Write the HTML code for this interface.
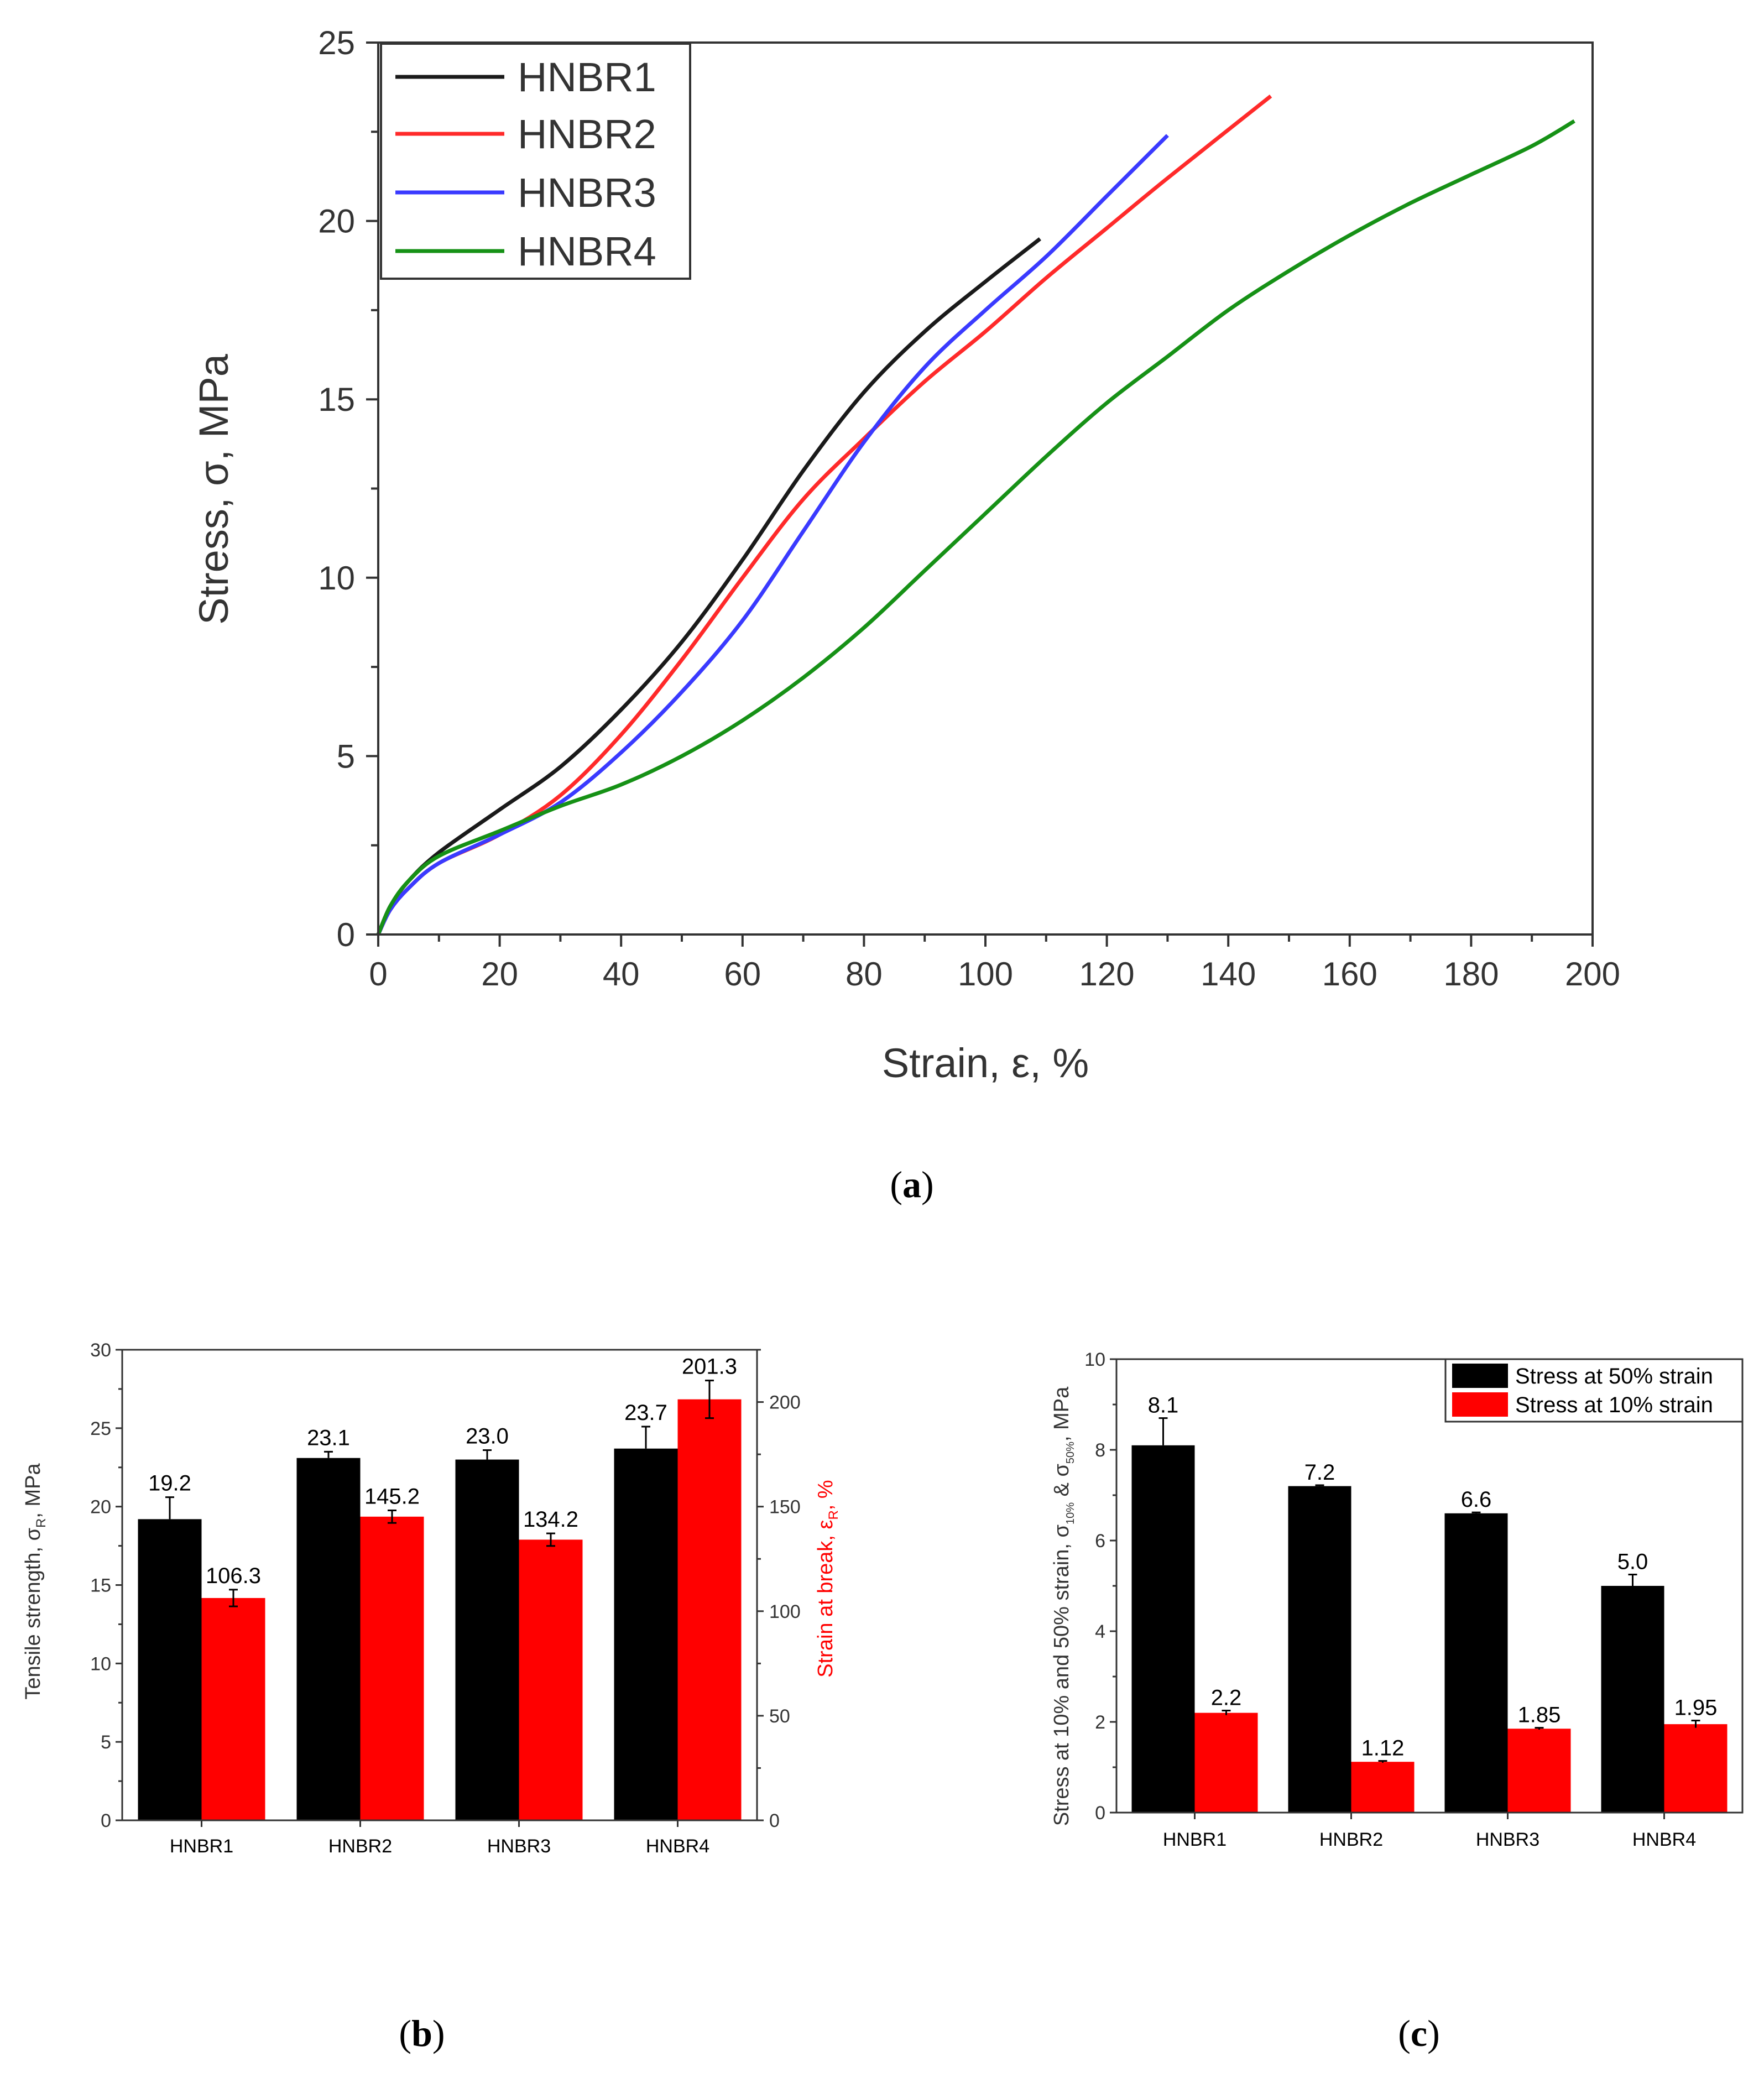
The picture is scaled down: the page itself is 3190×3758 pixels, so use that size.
<!DOCTYPE html>
<html><head><meta charset="utf-8">
<style>
html,body{margin:0;padding:0;background:#fff;}
svg{display:block;font-family:"Liberation Sans",Arial,sans-serif;}
</style></head>
<body>
<svg id="s" width="3190" height="3758" viewBox="0 0 3190 3758" xmlns="http://www.w3.org/2000/svg">
<text x="1649" y="2165" font-family="Liberation Serif,serif" font-size="68" text-anchor="middle">(<tspan font-weight="bold">a</tspan>)</text>
<text x="763" y="3700" font-family="Liberation Serif,serif" font-size="68" text-anchor="middle">(<tspan font-weight="bold">b</tspan>)</text>
<text x="2566" y="3700" font-family="Liberation Serif,serif" font-size="68" text-anchor="middle">(<tspan font-weight="bold">c</tspan>)</text>
</svg>
<script>
// ---- Chart A data ----
const aNames = ["HNBR1","HNBR2","HNBR3","HNBR4"];
const aColors = ["#1a1a1a","#ff2a2a","#3a3aff","#169116"];
const h1x = [0,2,5,10,20,30,40,50,60,70,80,90,100,109];
const h1y = [0,0.8,1.5,2.3,3.5,4.7,6.3,8.2,10.5,13,15.2,16.9,18.3,19.5];
const h2x = [0,2,5,10,20,30,40,50,60,70,80,90,100,110,120,130,147];
const h2y = [0,0.7,1.3,2,2.8,3.9,5.6,7.7,10,12.2,13.9,15.5,16.9,18.4,19.8,21.2,23.5];
const h3x = [0,2,5,10,20,30,40,50,60,70,80,90,100,110,120,130];
const h3y = [0,0.7,1.3,2,2.8,3.7,5.1,6.8,8.8,11.3,13.8,15.9,17.5,19,20.7,22.4];
const h4x = [0,2,5,10,20,30,40,50,60,70,80,90,100,110,120,130,140,150,160,170,180,190,197];
const h4y = [0,0.8,1.5,2.2,2.9,3.6,4.2,5.0,6.0,7.2,8.6,10.2,11.8,13.4,14.9,16.2,17.5,18.6,19.6,20.5,21.3,22.1,22.8];
const aXTicks = [0,20,40,60,80,100,120,140,160,180,200];
const aYTicks = [0,5,10,15,20,25];
// ---- Chart B data ----
const bCats = ["HNBR1","HNBR2","HNBR3","HNBR4"];
const bStrength = [19.2,23.1,23.0,23.7];
const bStrengthErr = [1.4,0.4,0.6,1.4];
const bStrain = [106.3,145.2,134.2,201.3];
const bStrainErr = [4,3,3,9];
const bLeftTicks = [0,5,10,15,20,25,30];
const bRightTicks = [0,50,100,150,200];
// ---- Chart C data ----
const cCats = ["HNBR1","HNBR2","HNBR3","HNBR4"];
const c50 = [8.1,7.2,6.6,5.0];
const c50Err = [0.6,0.02,0.02,0.25];
const c10 = [2.2,1.12,1.85,1.95];
const c10Err = [0.05,0.02,0.02,0.08];
const c50Labels = ["8.1","7.2","6.6","5.0"];
const c10Labels = ["2.2","1.12","1.85","1.95"];
const cTicks = [0,2,4,6,8,10];

const NS = "http://www.w3.org/2000/svg";
const svg = document.getElementById('s');
function el(tag, attrs, parent, txt){
  const e = document.createElementNS(NS, tag);
  for (const k in attrs) e.setAttribute(k, attrs[k]);
  if (txt !== undefined) e.textContent = txt;
  (parent||svg).appendChild(e);
  return e;
}
function smoothPath(P){
  let d = 'M'+P[0][0].toFixed(1)+','+P[0][1].toFixed(1);
  for(let i=0;i<P.length-1;i++){
    const p0=P[Math.max(0,i-1)], p1=P[i], p2=P[i+1], p3=P[Math.min(P.length-1,i+2)];
    const c1x=p1[0]+(p2[0]-p0[0])/6, c1y=p1[1]+(p2[1]-p0[1])/6;
    const c2x=p2[0]-(p3[0]-p1[0])/6, c2y=p2[1]-(p3[1]-p1[1])/6;
    d+=' C'+c1x.toFixed(1)+','+c1y.toFixed(1)+' '+c2x.toFixed(1)+','+c2y.toFixed(1)+' '+p2[0].toFixed(1)+','+p2[1].toFixed(1);
  }
  return d;
}

// ===== Chart A =====
(function(){
  const L=684,R=2880,T=77,B=1690;
  const xS = v => L + v/200*(R-L);
  const yS = v => B - v/25*(B-T);
  const g = el('g',{});
  
  
  const series=[[h1x,h1y],[h2x,h2y],[h3x,h3y],[h4x,h4y]];
  series.forEach((s,i)=>{
    const P = s[0].map((x,j)=>[xS(x),yS(s[1][j])]);
    const p = el('path',{d:smoothPath(P),fill:'none',stroke:aColors[i],'stroke-width':7,'stroke-linejoin':'round'},g);
    
    
  });
  const fr = el('rect',{x:L,y:T,width:R-L,height:B-T,fill:'none',stroke:'#333','stroke-width':4},g);
  
  
  for(let v=0; v<=200; v+=10){
    el('line',{x1:xS(v),x2:xS(v),y1:B,y2:B+(v%20==0?22:13),stroke:'#333','stroke-width':4},g);
  }
  aXTicks.forEach(v=>{
    const t = el('text',{x:xS(v),y:B+92,'font-size':60,'text-anchor':'middle',fill:'#333'},g,String(v));
    
    
  });
  for(let v=0; v<=25; v+=2.5){
    el('line',{x1:L,x2:L-(v%5==0?22:13),y1:yS(v),y2:yS(v),stroke:'#333','stroke-width':4},g);
  }
  aYTicks.forEach(v=>{
    const t = el('text',{x:L-42,y:yS(v)+21,'font-size':60,'text-anchor':'end',fill:'#333'},g,String(v));
    
    
  });
  const xt = el('text',{x:(L+R)/2,y:1948,'font-size':74,'text-anchor':'middle',fill:'#333'},g,'Strain, ε, %');
  
  
  const yt = el('text',{x:0,y:0,'font-size':74,'text-anchor':'middle',fill:'#333',transform:'translate(412,885) rotate(-90)'},g,'Stress, σ, MPa');
  
  
  const lg = el('g',{},g);
  
  
  el('rect',{x:689,y:79,width:559,height:425,fill:'#fff',stroke:'#333','stroke-width':4},lg);
  const ly=[139,242,348,454];
  aNames.forEach((n,i)=>{
    el('line',{x1:715,x2:912,y1:ly[i],y2:ly[i],stroke:aColors[i],'stroke-width':7},lg);
    const t = el('text',{x:936,y:ly[i]+26,'font-size':74,fill:'#333'},lg,n);
    
    
  });
})();

// ===== Chart B =====
(function(){
  const L=221,R=1369,T=2441,B=3292;
  const sp=(R-L)/4, bw=115;
  const yL = v => B - v/30*(B-T);
  const yR = v => B - v/225*(B-T);
  const g = el('g',{});
  
  
  bCats.forEach((c,i)=>{
    const cx = L+(i+0.5)*sp;
    const b1 = el('rect',{x:cx-bw,y:yL(bStrength[i]),width:bw,height:B-yL(bStrength[i]),fill:'#000'},g);
    
    
    const b2 = el('rect',{x:cx,y:yR(bStrain[i]),width:bw,height:B-yR(bStrain[i]),fill:'#ff0000'},g);
    
    
    const ex1=cx-bw/2, ex2=cx+bw/2;
    el('line',{x1:ex1,x2:ex1,y1:yL(bStrength[i]+bStrengthErr[i]),y2:yL(bStrength[i]),stroke:'#000','stroke-width':3},g);
    el('line',{x1:ex1-8,x2:ex1+8,y1:yL(bStrength[i]+bStrengthErr[i]),y2:yL(bStrength[i]+bStrengthErr[i]),stroke:'#000','stroke-width':3},g);
    el('line',{x1:ex2,x2:ex2,y1:yR(bStrain[i]+bStrainErr[i]),y2:yR(bStrain[i]-bStrainErr[i]),stroke:'#000','stroke-width':3},g);
    el('line',{x1:ex2-8,x2:ex2+8,y1:yR(bStrain[i]+bStrainErr[i]),y2:yR(bStrain[i]+bStrainErr[i]),stroke:'#000','stroke-width':3},g);
    el('line',{x1:ex2-8,x2:ex2+8,y1:yR(bStrain[i]-bStrainErr[i]),y2:yR(bStrain[i]-bStrainErr[i]),stroke:'#000','stroke-width':3},g);
    const t1=el('text',{x:ex1,y:yL(bStrength[i]+bStrengthErr[i])-12,'font-size':40,'text-anchor':'middle'},g,bStrength[i].toFixed(1));
    
    
    const t2=el('text',{x:ex2,y:yR(bStrain[i]+bStrainErr[i])-12,'font-size':40,'text-anchor':'middle'},g,bStrain[i].toFixed(1));
    
    
    el('line',{x1:cx,x2:cx,y1:B,y2:B+12,stroke:'#333','stroke-width':3},g);
    const cl=el('text',{x:cx,y:3350,'font-size':34,'text-anchor':'middle'},g,c);
    
    
  });
  el('rect',{x:L,y:T,width:R-L,height:B-T,fill:'none',stroke:'#333','stroke-width':3},g);
  for(let v=0;v<=30;v+=2.5){
    el('line',{x1:L,x2:L-(v%5==0?12:7),y1:yL(v),y2:yL(v),stroke:'#333','stroke-width':3},g);
  }
  bLeftTicks.forEach(v=>{
    const t=el('text',{x:L-20,y:yL(v)+12,'font-size':34,'text-anchor':'end',fill:'#333'},g,String(v));
    
    
  });
  for(let v=0;v<=225;v+=25){
    el('line',{x1:R,x2:R+(v%50==0?12:7),y1:yR(v),y2:yR(v),stroke:'#333','stroke-width':3},g);
  }
  bRightTicks.forEach(v=>{
    const t=el('text',{x:R+22,y:yR(v)+12,'font-size':34,fill:'#333'},g,String(v));
    
    
  });
  const yt=el('text',{x:0,y:0,'font-size':38,'text-anchor':'middle',fill:'#333',transform:'translate(72,2860) rotate(-90)'},g);
  yt.innerHTML='Tensile strength, σ<tspan font-size="24" dy="10">R</tspan><tspan dy="-10">, MPa</tspan>';
  
  
  const rt=el('text',{x:0,y:0,'font-size':38,'text-anchor':'middle',fill:'#ff0000',transform:'translate(1505,2855) rotate(-90)'},g);
  rt.innerHTML='Strain at break, ε<tspan font-size="24" dy="10">R</tspan><tspan dy="-10">, %</tspan>';
  
  
})();

// ===== Chart C =====
(function(){
  const L=2019,R=3151,T=2458,B=3278;
  const sp=(R-L)/4, bw=114;
  const yS = v => B - v/10*(B-T);
  const g = el('g',{});
  
  
  cCats.forEach((c,i)=>{
    const cx=L+(i+0.5)*sp;
    const b1=el('rect',{x:cx-bw,y:yS(c50[i]),width:bw,height:B-yS(c50[i]),fill:'#000'},g);
    
    
    const b2=el('rect',{x:cx,y:yS(c10[i]),width:bw,height:B-yS(c10[i]),fill:'#ff0000'},g);
    
    
    const ex1=cx-bw/2, ex2=cx+bw/2;
    el('line',{x1:ex1,x2:ex1,y1:yS(c50[i]+c50Err[i]),y2:yS(c50[i]),stroke:'#000','stroke-width':3},g);
    el('line',{x1:ex1-8,x2:ex1+8,y1:yS(c50[i]+c50Err[i]),y2:yS(c50[i]+c50Err[i]),stroke:'#000','stroke-width':3},g);
    el('line',{x1:ex2,x2:ex2,y1:yS(c10[i]+c10Err[i]),y2:yS(c10[i]-c10Err[i]),stroke:'#000','stroke-width':3},g);
    el('line',{x1:ex2-8,x2:ex2+8,y1:yS(c10[i]+c10Err[i]),y2:yS(c10[i]+c10Err[i]),stroke:'#000','stroke-width':3},g);
    const t1=el('text',{x:ex1,y:yS(c50[i]+c50Err[i])-10,'font-size':40,'text-anchor':'middle'},g,c50Labels[i]);
    
    
    const t2=el('text',{x:ex2,y:yS(c10[i]+c10Err[i])-10,'font-size':40,'text-anchor':'middle'},g,c10Labels[i]);
    
    
    el('line',{x1:cx,x2:cx,y1:B,y2:B+12,stroke:'#333','stroke-width':3},g);
    const cl=el('text',{x:cx,y:3338,'font-size':34,'text-anchor':'middle'},g,c);
    
    
  });
  el('rect',{x:L,y:T,width:R-L,height:B-T,fill:'none',stroke:'#333','stroke-width':3},g);
  for(let v=0;v<=10;v+=1){
    el('line',{x1:L,x2:L-(v%2==0?12:7),y1:yS(v),y2:yS(v),stroke:'#333','stroke-width':3},g);
  }
  cTicks.forEach(v=>{
    const t=el('text',{x:L-20,y:yS(v)+12,'font-size':34,'text-anchor':'end',fill:'#333'},g,String(v));
    
    
  });
  const yt=el('text',{x:0,y:0,'font-size':38,'text-anchor':'middle',fill:'#333',transform:'translate(1932,2905) rotate(-90)'},g);
  yt.innerHTML='Stress at 10% and 50% strain, σ<tspan font-size="20" dy="10">10%</tspan><tspan dy="-10"> &amp; σ</tspan><tspan font-size="20" dy="10">50%</tspan><tspan dy="-10">, MPa</tspan>';
  
  
  const lg=el('g',{},g);
  
  
  el('rect',{x:2614,y:2458,width:537,height:113,fill:'#fff',stroke:'#333','stroke-width':3},lg);
  el('rect',{x:2626,y:2466,width:101,height:44,fill:'#000'},lg);
  el('rect',{x:2626,y:2518,width:101,height:44,fill:'#ff0000'},lg);
  const l1=el('text',{x:2740,y:2502,'font-size':40},lg,'Stress at 50% strain');
  
  
  const l2=el('text',{x:2740,y:2554,'font-size':40},lg,'Stress at 10% strain');
  
  
})();
</script>
</body></html>
